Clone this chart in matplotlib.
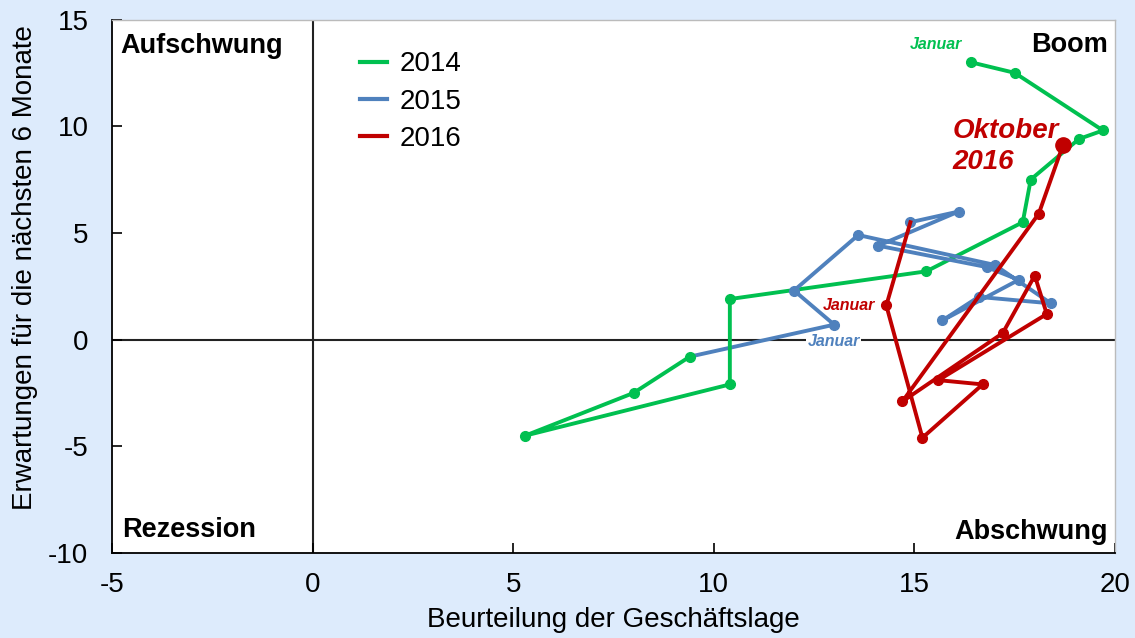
import matplotlib
matplotlib.use("Agg")
import matplotlib.pyplot as plt

plt.rcParams['font.family'] = ['Liberation Sans', 'DejaVu Sans']
plt.rcParams['axes.unicode_minus'] = False

# Data (x: Beurteilung der Geschäftslage, y: Erwartungen)
x2014 = [16.4, 17.5, 19.7, 19.1, 17.9, 17.7, 15.3, 10.4, 10.4, 5.3, 8.0, 9.4]
y2014 = [13.0, 12.5, 9.8, 9.4, 7.5, 5.5, 3.2, 1.9, -2.1, -4.5, -2.5, -0.8]
x2015 = [13.0, 12.0, 13.6, 17.0, 18.4, 16.6, 15.7, 17.6, 16.8, 14.1, 16.1, 14.9]
y2015 = [0.7, 2.3, 4.9, 3.5, 1.7, 2.0, 0.9, 2.8, 3.4, 4.4, 6.0, 5.5]
x2016 = [14.3, 15.2, 16.7, 15.6, 18.3, 18.0, 17.2, 14.7, 18.1, 18.7]
y2016 = [1.6, -4.6, -2.1, -1.9, 1.2, 3.0, 0.3, -2.9, 5.9, 9.1]

years = ["2014", "2015", "2016"]
colors = ["#00C050", "#4F81BD", "#C00000"]
xticks = [-5, 0, 5, 10, 15, 20]
yticks = [-10, -5, 0, 5, 10, 15]

fig = plt.figure(figsize=(11.35, 6.38), dpi=100)
fig.patch.set_facecolor("#DDEBFC")
ax = fig.add_axes([112/1135, 1-553/638, (1115-112)/1135, (553-19.5)/638])
ax.set_facecolor("white")
ax.set_xlim(-5, 20)
ax.set_ylim(-10, 15)

ax.axhline(0, color="#222222", lw=1.5, zorder=1)
ax.axvline(0, color="#222222", lw=1.5, zorder=1)

lw = 2.8
ms = 7
# connectors between years drawn in the later year's colour
ax.plot([x2014[-1], x2015[0]], [y2014[-1], y2015[0]], color=colors[1], lw=lw, zorder=3)
ax.plot([x2015[-1], x2016[0]], [y2015[-1], y2016[0]], color=colors[2], lw=lw, zorder=4)

ax.plot(x2014, y2014, color=colors[0], lw=lw, marker='o', ms=ms, label=years[0], zorder=3)
ax.plot(x2015, y2015, color=colors[1], lw=lw, marker='o', ms=ms, label=years[1], zorder=3)
ax.plot(x2016, y2016, color=colors[2], lw=lw, marker='o', ms=ms, label=years[2], zorder=4)
ax.plot([x2016[-1]], [y2016[-1]], color=colors[2], marker='o', ms=11, zorder=5)

# Ticks
ax.set_xticks(xticks)
ax.set_yticks(yticks)
ax.tick_params(direction='in', length=7, width=1.2, labelsize=20,
               top=False, right=False)
ax.tick_params(axis='x', pad=14)
ax.tick_params(axis='y', pad=17)
for s in ['left', 'bottom']:
    ax.spines[s].set_color('black')
    ax.spines[s].set_linewidth(1.3)
for s in ['top', 'right']:
    ax.spines[s].set_color('#BBBBBB')
    ax.spines[s].set_linewidth(1.0)

ax.set_xlabel("Beurteilung der Geschäftslage", fontsize=20, labelpad=6)
ax.set_ylabel("Erwartungen für die nächsten 6 Monate", fontsize=20, labelpad=4)
ax.yaxis.set_label_coords(-0.074, 0.535)

# Quadrant labels
qkw = dict(fontsize=19.5, fontweight='bold', color='black', transform=ax.transAxes)
ax.text(0.008, 0.950, "Aufschwung", ha='left', va='center', **qkw)
ax.text(0.993, 0.952, "Boom", ha='right', va='center', **qkw)
ax.text(0.010, 0.043, "Rezession", ha='left', va='center', **qkw)
ax.text(0.993, 0.040, "Abschwung", ha='right', va='center', **qkw)

# Annotations
akw = dict(fontsize=11.5, fontweight='bold', style='italic', va='center')
ax.text(15.55, 13.84, "Januar", color=colors[0], ha='center', **akw)
ax.text(14.02, 1.62, "Januar", color=colors[2], ha='right', **akw)
ax.text(12.99, -0.07, "Januar", color=colors[1], ha='center', zorder=2,
        bbox=dict(facecolor='white', edgecolor='none', pad=0.8), **akw)
ax.text(15.95, 9.05, "Oktober\n2016", color=colors[2], fontsize=20, fontweight='bold',
        style='italic', ha='left', va='center', linespacing=1.22)

leg = ax.legend(loc='upper left', bbox_to_anchor=(0.222, 0.987), frameon=False,
                fontsize=20, handlelength=1.0, handletextpad=0.45, labelspacing=0.4)
for h in leg.get_lines():
    h.set_marker('')
    h.set_linewidth(3)

fig.savefig("out.png", dpi=100, facecolor=fig.get_facecolor())
